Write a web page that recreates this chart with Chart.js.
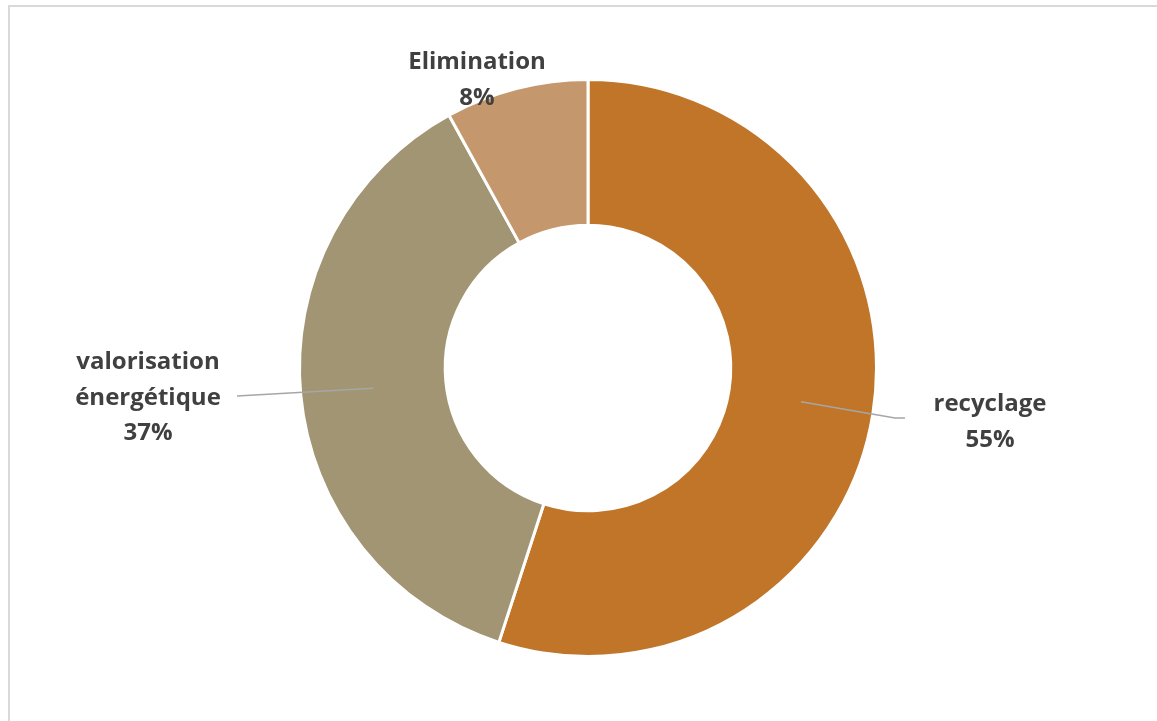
<!DOCTYPE html>
<html lang="fr">
<head>
<meta charset="utf-8">
<title>Répartition</title>
<script src="https://cdn.jsdelivr.net/npm/chart.js@4/dist/chart.umd.min.js"></script>
<style>
  html, body { margin: 0; padding: 0; background: #fff; overflow: hidden; }
  #frame {
    position: absolute; left: 8px; top: 5px;
    width: 1300px; height: 900px;
    border: 2px solid #d9d9d9; box-sizing: border-box;
  }
  #wrap { position: absolute; left: 0; top: 0; width: 1157px; height: 721px; }
</style>
</head>
<body>
<div id="frame"></div>
<div id="wrap"><canvas id="chart"></canvas></div>
<script>
// data
const categories = ["recyclage", "valorisation énergétique", "Elimination"];
const labelLines = [["recyclage"], ["valorisation", "énergétique"], ["Elimination"]];
const shares = [55, 37, 8];
const colors = ["#C07529", "#A29573", "#C4986C"];

// label placement relative to the doughnut centre, leader end relative to label
const labelPos = [
  { dx: 402, dy: 52, leader: { dx: -85, dy: -2, elbow: 10 } },
  { dx: -440, dy: 28, leader: { dx: 89, dy: 0, elbow: 0 } },
  { dx: -111, dy: -290, leader: null },
];

const labelPlugin = {
  id: "donutLabels",
  afterDatasetsDraw(chart) {
    const ctx = chart.ctx;
    const meta = chart.getDatasetMeta(0);
    meta.data.forEach((arc, i) => {
      const { x, y, startAngle, endAngle, innerRadius, outerRadius } =
        arc.getProps(["x", "y", "startAngle", "endAngle", "innerRadius", "outerRadius"], true);
      const pos = labelPos[i];
      const lx = x + pos.dx;
      const ly = y + pos.dy;

      // leader line from ring centroid to the label
      if (pos.leader) {
        const mid = (startAngle + endAngle) / 2;
        const r = (innerRadius + outerRadius) / 2;
        const sx = x + Math.cos(mid) * r;
        const sy = y + Math.sin(mid) * r;
        const ex = lx + pos.leader.dx;
        const ey = ly + pos.leader.dy;
        const bx = ex + (ex > sx ? -pos.leader.elbow : pos.leader.elbow);
        ctx.save();
        ctx.strokeStyle = "#a6a6a6";
        ctx.lineWidth = 1.5;
        ctx.beginPath();
        ctx.moveTo(sx, sy);
        ctx.lineTo(bx, ey);
        ctx.lineTo(ex, ey);
        ctx.stroke();
        ctx.restore();
      }

      const lines = labelLines[i].concat([shares[i] + "%"]);
      const lh = 35.5;
      ctx.save();
      ctx.fillStyle = "#404040";
      ctx.font = "bold 24px 'Open Sans', Lato, sans-serif";
      ctx.textAlign = "center";
      ctx.textBaseline = "middle";
      lines.forEach((t, k) => {
        ctx.fillText(t, lx, ly + 2 + (k - (lines.length - 1) / 2) * lh);
      });
      ctx.restore();
    });
  },
};

new Chart(document.getElementById("chart"), {
  type: "doughnut",
  data: {
    labels: categories,
    datasets: [
      {
        data: shares,
        backgroundColor: colors,
        borderColor: "#ffffff",
        borderWidth: 3,
        hoverOffset: 0,
      },
    ],
  },
  options: {
    responsive: true,
    maintainAspectRatio: false,
    animation: false,
    cutout: "49.5%",
    layout: {
      padding: { top: 78, bottom: 63, left: 298, right: 279 },
    },
    plugins: {
      legend: { display: false },
      tooltip: { enabled: false },
    },
  },
  plugins: [labelPlugin],
});
</script>
</body>
</html>
